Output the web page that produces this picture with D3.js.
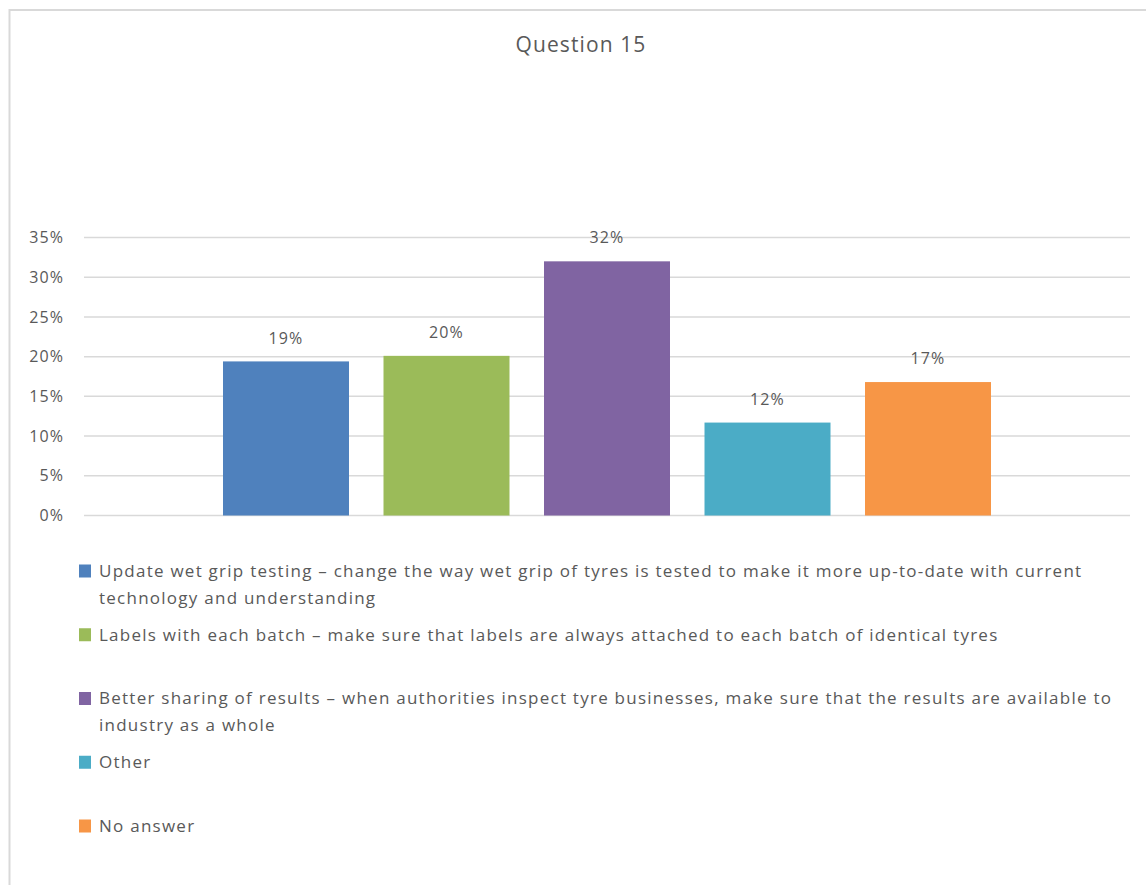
<!DOCTYPE html>
<html>
<head>
<meta charset="utf-8">
<script src="https://cdn.jsdelivr.net/npm/d3@7"></script>
<style>
  html, body { margin: 0; padding: 0; background: #fff; }
  svg { display: block; }
  text { font-family: "Open Sans", "Liberation Sans", sans-serif; fill: #595959; }
</style>
</head>
<body>
<svg id="chart" width="1146" height="885"></svg>
<script>
// Survey answers to Question 15 (share of respondents)
const categories = [
  "Update wet grip testing \u2013 change the way wet grip of tyres is tested to make it more up-to-date with current\ntechnology and understanding",
  "Labels with each batch \u2013 make sure that labels are always attached to each batch of identical tyres",
  "Better sharing of results \u2013 when authorities inspect tyre businesses, make sure that the results are available to\nindustry as a whole",
  "Other",
  "No answer"
];
const values = [0.194, 0.201, 0.320, 0.117, 0.168];
const colors = ["#4f81bd", "#9bbb59", "#8064a2", "#4bacc6", "#f79646"];
const yTicks = [0, 0.05, 0.10, 0.15, 0.20, 0.25, 0.30, 0.35];
const title = "Question 15";

const svg = d3.select("#chart");
const W = 1146, H = 885;

svg.append("rect").attr("width", W).attr("height", H).attr("fill", "#fff");

// chart frame (top and left edges visible)
svg.append("path")
  .attr("d", `M9.5,${H + 5} V10 H${W + 5}`)
  .attr("fill", "none")
  .attr("stroke", "#d9d9d9")
  .attr("stroke-width", 2);

// title
svg.append("text")
  .attr("x", 581).attr("y", 45)
  .attr("dy", "0.35em")
  .attr("text-anchor", "middle")
  .style("font-size", "21px")
  .style("letter-spacing", "1.1px")
  .text(title);

const plot = { left: 84, right: 1130, top: 237.5, bottom: 515.5 };

const x = d3.scaleBand()
  .domain(d3.range(categories.length))
  .range([plot.left, plot.right])
  .paddingInner(0.215)
  .paddingOuter(0.866);

const y = d3.scaleLinear()
  .domain([0, 0.35])
  .range([plot.bottom, plot.top]);

// gridlines
svg.append("g")
  .selectAll("line")
  .data(yTicks)
  .join("line")
  .attr("x1", plot.left).attr("x2", plot.right)
  .attr("y1", d => y(d)).attr("y2", d => y(d))
  .attr("stroke", "#d9d9d9")
  .attr("stroke-width", 1.5);

// y axis labels
const fmtAxis = d3.format(".0%");
svg.append("g")
  .selectAll("text")
  .data(yTicks)
  .join("text")
  .attr("x", 64)
  .attr("y", d => y(d))
  .attr("dy", "0.35em")
  .attr("text-anchor", "end")
  .style("font-size", "16px")
  .style("letter-spacing", "1.1px")
  .text(d => fmtAxis(d));

// bars
svg.append("g")
  .selectAll("rect")
  .data(values)
  .join("rect")
  .attr("x", (d, i) => x(i))
  .attr("width", x.bandwidth())
  .attr("y", d => y(d))
  .attr("height", d => y(0) - y(d))
  .attr("fill", (d, i) => colors[i]);

// value labels
svg.append("g")
  .selectAll("text")
  .data(values)
  .join("text")
  .attr("x", (d, i) => x(i) + x.bandwidth() / 2)
  .attr("y", d => y(d) - 23.5)
  .attr("dy", "0.35em")
  .attr("text-anchor", "middle")
  .style("font-size", "16px")
  .style("letter-spacing", "1.1px")
  .text(d => fmtAxis(d));

// legend
const legendTop = 571, legendStep = 63.75, lineH = 27;
const legend = svg.append("g")
  .selectAll("g")
  .data(categories)
  .join("g")
  .attr("transform", (d, i) => `translate(0,${legendTop + i * legendStep})`);

legend.append("rect")
  .attr("x", 79).attr("y", -6.5)
  .attr("width", 12).attr("height", 13)
  .attr("fill", (d, i) => colors[i]);

legend.each(function(d) {
  const g = d3.select(this);
  d.split("\n").forEach((line, k) => {
    g.append("text")
      .attr("x", 99)
      .attr("y", k * lineH)
      .attr("dy", "0.35em")
      .style("font-size", "17px")
      .style("letter-spacing", "1.25px")
      .text(line);
  });
});
</script>
</body>
</html>
